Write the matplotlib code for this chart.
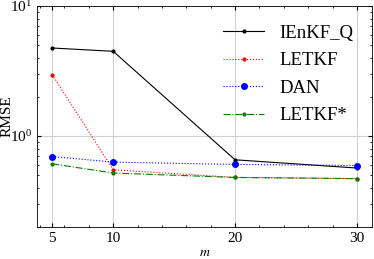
import matplotlib
matplotlib.use("Agg")
import matplotlib.pyplot as plt

plt.rcParams["font.family"] = ["Liberation Serif", "DejaVu Serif"]
plt.rcParams["mathtext.fontset"] = "stix"

m = [5, 10, 20, 30]
ienkf_q = [4.75, 4.48, 0.656, 0.567]
letkf = [2.96, 0.55, 0.48, 0.47]
dan = [0.695, 0.63, 0.604, 0.593]
letkf_star = [0.611, 0.519, 0.48, 0.47]

fig = plt.figure(figsize=(3.74, 2.59), dpi=100)
ax = fig.add_axes([0.099, 0.124, 0.896, 0.853])

ax.plot(m, ienkf_q, "k-", marker=".", ms=4, lw=0.8, label="IEnKF_Q")
ax.plot(m, letkf, "r:", marker=".", ms=4, lw=0.8, label="LETKF")
ax.plot(m, dan, "b:", marker="o", ms=4, lw=0.8, label="DAN")
ax.plot(m, letkf_star, "g-.", marker=".", ms=4, lw=0.8, label="LETKF*")

ax.set_yscale("log")
ax.set_ylim(0.2, 10)
ax.set_xlim(3.75, 31.25)
ax.set_xticks(m)
ax.set_xticks(range(4, 32, 2), minor=True)
ax.set_xlabel("$m$", fontsize=10)
ax.set_ylabel("RMSE", fontsize=11)
ax.xaxis.set_label_coords(0.5, -0.085)
ax.yaxis.set_label_coords(-0.07, 0.5)
ax.grid(True, which="major", color="#d0d0d0", lw=0.8)
ax.tick_params(which="both", direction="in", top=True, right=True, labelsize=11)
ax.tick_params(which="major", length=3)
ax.tick_params(which="minor", length=1.5)
for s in ax.spines.values():
    s.set_linewidth(0.6)

ax.legend(loc="upper right", frameon=False, fontsize=13.5, handlelength=2.2,
          labelspacing=0.55, borderaxespad=0.6)

fig.savefig("out.png", dpi=100)
